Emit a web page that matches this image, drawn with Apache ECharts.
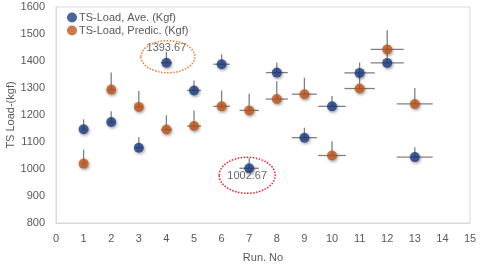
<!DOCTYPE html>
<html><head><meta charset="utf-8">
<script src="https://cdn.jsdelivr.net/npm/echarts@6/dist/echarts.min.js"></script>
<style>html,body{margin:0;padding:0;background:#fff}#c{width:480px;height:265px}</style>
</head><body><div id="c"></div>
<script>
var runs = [1,2,3,4,5,6,7,8,9,10,11,12,13];
var aveLoad = [1147,1174,1079,1393.67,1291,1388,1002.67,1357,1116,1232,1356,1393,1044];
var aveErr = [37,40,39,40,37,37,37,37,37,38,38,50,37];
var predLoad = [1020,1294,1230,1146,1159,1232,1217,1259,1277,1050,1298,1443,1241];
var predErr = [52,63,59,53,58,59,62,66,61,53,58,71,59];
var runErr = [0.05,0.1,0.15,0.2,0.25,0.3,0.35,0.4,0.45,0.5,0.55,0.6,0.65];
var xTicks = [0,15,1];
var yTicks = [800,1600,100];
var labeledIdx = [3,6];

var FONT = 'Liberation Sans';
var TXT = '#595959';
var BLUE = '#1f3d85';
var ORANGE = '#c0561a';

function pts(vals){ return runs.map(function(r,i){ return [r, vals[i]]; }); }
function errData(vals, errs){ return runs.map(function(r,i){ return [r, vals[i], runErr[i], errs[i]]; }); }

function errRender(params, api){
  var x = api.value(0), y = api.value(1), xe = api.value(2), ye = api.value(3);
  var pl = api.coord([x - xe, y]), pr = api.coord([x + xe, y]);
  var pc = api.coord([x, y]), pt = api.coord([x, y + ye]);
  var st = {stroke:'#808080', lineWidth:1.3};
  return {type:'group', children:[
    {type:'line', shape:{x1:pl[0],y1:pl[1],x2:pr[0],y2:pr[1]}, style:st},
    {type:'line', shape:{x1:pc[0],y1:pc[1],x2:pt[0],y2:pt[1]}, style:st}
  ]};
}

var chart = echarts.init(document.getElementById('c'));
var shadow = {shadowBlur:3, shadowColor:'rgba(0,0,0,0.45)', shadowOffsetX:1, shadowOffsetY:1.5};

chart.setOption({
  animation:false,
  textStyle:{fontFamily:FONT},
  grid:{left:56, right:10, top:7, bottom:42, show:true, borderColor:'#d9d9d9', borderWidth:1,
        containLabel:false, outerBoundsMode:'none'},
  legend:{
    data:['TS-Load, Ave. (Kgf)','TS-Load, Predic. (Kgf)'],
    orient:'vertical', left:62, top:7, itemWidth:10, itemHeight:10, itemGap:2,
    icon:'circle',
    textStyle:{color:TXT, fontSize:11, fontFamily:FONT, padding:[0,0,0,-3]}
  },
  xAxis:{
    type:'value', min:xTicks[0], max:xTicks[1], interval:xTicks[2],
    name:'Run. No', nameLocation:'middle', nameGap:29, nameMoveOverlap:false,
    nameTextStyle:{color:TXT, fontSize:11, fontFamily:FONT},
    axisLine:{show:true, lineStyle:{color:'#d9d9d9'}},
    axisTick:{show:false}, splitLine:{show:false},
    axisLabel:{color:TXT, fontSize:11, margin:10, fontFamily:FONT, formatter:function(v){return String(v);}}
  },
  yAxis:{
    type:'value', min:yTicks[0], max:yTicks[1], interval:yTicks[2],
    name:'TS Load-(kgf)', nameLocation:'middle', nameGap:40, nameMoveOverlap:false,
    nameTextStyle:{color:TXT, fontSize:11, fontFamily:FONT},
    axisLine:{show:true, lineStyle:{color:'#d9d9d9'}},
    axisTick:{show:false}, splitLine:{show:false},
    axisLabel:{color:TXT, fontSize:11, margin:11, fontFamily:FONT, formatter:function(v){return String(v);}}
  },
  series:[
    {type:'custom', renderItem:errRender, data:errData(aveLoad, aveErr), z:1, silent:true},
    {type:'custom', renderItem:errRender, data:errData(predLoad, predErr), z:1, silent:true},
    {name:'TS-Load, Ave. (Kgf)', type:'scatter', symbolSize:10, z:3,
     itemStyle:Object.assign({color:BLUE}, shadow),
     data:pts(aveLoad).map(function(p,i){
       if (i === labeledIdx[0]) return {value:p, label:{show:true, position:'top', distance:4,
         formatter:function(d){return d.value[1].toFixed(2);}, color:'#404040', fontSize:11, fontFamily:FONT}};
       if (i === labeledIdx[1]) return {value:p, label:{show:true, position:'inside', offset:[-2,8],
         formatter:function(d){return d.value[1].toFixed(2);}, color:'#404040', fontSize:11, fontFamily:FONT}};
       return p;
     })},
    {name:'TS-Load, Predic. (Kgf)', type:'scatter', symbolSize:10, z:2,
     itemStyle:Object.assign({color:ORANGE}, shadow),
     data:pts(predLoad)}
  ]
});

function ring(idx, dx, dy, rx, ry, color){
  var p = chart.convertToPixel({gridIndex:0}, [runs[idx], aveLoad[idx]]);
  return {type:'ellipse', shape:{cx:p[0]+dx, cy:p[1]+dy, rx:rx, ry:ry},
    style:{fill:'none', stroke:color, lineWidth:1.5, lineDash:[1.5,1.5]}, z:10};
}
chart.setOption({graphic:[
  ring(labeledIdx[0], 1.5, -6, 27, 16, '#ed7d31'),
  ring(labeledIdx[1], -2, 7, 28, 18, '#e8202a')
]});
</script></body></html>
